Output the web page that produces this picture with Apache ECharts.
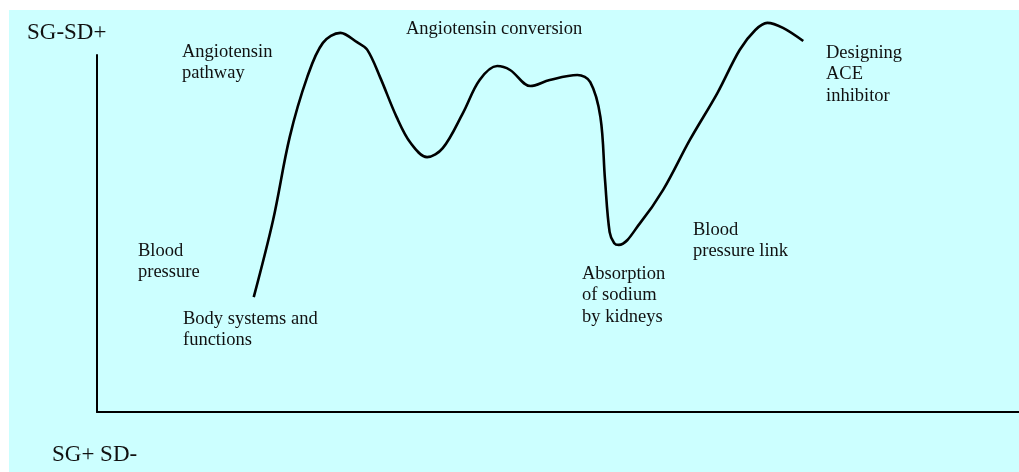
<!DOCTYPE html>
<html>
<head>
<meta charset="utf-8">
<script src="https://cdn.jsdelivr.net/npm/echarts@6/dist/echarts.min.js"></script>
<style>
html,body{margin:0;padding:0;background:#fff;}
#chart{width:1019px;height:472px;}
</style>
</head>
<body>
<div id="chart"></div>
<script>
// Curve (conceptual progress): x position along the narrative, y level (SG-SD scale)
const curveX = [17.0, 19.1, 20.9, 22.8, 24.5, 26.4, 28.2, 29.3, 30.7, 32.5, 34.0, 35.8, 37.5, 39.7, 41.5, 43.4, 44.8, 47.0, 49.1, 52.1, 53.5, 54.6, 55.1, 55.6, 56.1, 56.6, 58.9, 61.4, 64.3, 67.3, 69.7, 71.4, 72.7, 74.4, 76.6];
const curveY = [32.2, 53.8, 77.0, 93.8, 103.4, 106.2, 103.6, 101.5, 93.8, 82.6, 75.4, 71.4, 73.9, 83.8, 93.0, 96.9, 95.8, 91.3, 93.0, 94.4, 92.4, 82.6, 65.0, 50.4, 47.3, 46.8, 52.9, 62.2, 76.2, 89.4, 101.4, 107.0, 109.0, 107.6, 103.9];

// Annotation texts
const axisTopLabel = 'SG-SD+';
const axisBottomLabel = 'SG+ SD-';
const stageLabels = [
  'Angiotensin\npathway',
  'Angiotensin conversion',
  'Designing\nACE\ninhibitor',
  'Blood\npressure',
  'Body systems and\nfunctions',
  'Absorption\nof sodium\nby kidneys',
  'Blood\npressure link'
];

const chart = echarts.init(document.getElementById('chart'), null, {renderer: 'canvas'});

const FONT = '"Liberation Serif", "Times New Roman", serif';
const LH = 21.5;
function label(text, x, baseline, size, lh) {
  size = size || 18.5; lh = lh || LH;
  return {
    type: 'text',
    silent: true,
    z: 10,
    style: {
      text: text,
      x: x,
      y: baseline - lh / 2 - size * 0.33,
      fontFamily: FONT,
      fontSize: size,
      lineHeight: lh,
      fill: '#111',
      verticalAlign: 'top',
      align: 'left'
    }
  };
}

const labelPos = [
  [182, 58], [406, 35], [826, 59], [138, 257], [183, 325], [582, 280], [693, 236]
];

const graphics = [
  {type: 'rect', z: -10, silent: true, shape: {x: 9, y: 10, width: 1010, height: 462}, style: {fill: '#CCFFFF'}},
  label(axisTopLabel, 27, 41, 23, 26),
  label(axisBottomLabel, 52, 463, 23, 26)
];
stageLabels.forEach((t, i) => graphics.push(label(t, labelPos[i][0], labelPos[i][1])));

chart.setOption({
  backgroundColor: '#ffffff',
  animation: false,
  graphic: graphics,
  grid: {left: 97, right: 0, top: 55, bottom: 60, containLabel: false},
  xAxis: {
    type: 'value', min: 0, max: 100,
    axisLine: {show: true, onZero: false, lineStyle: {color: '#000', width: 2}},
    axisTick: {show: false}, axisLabel: {show: false}, splitLine: {show: false}
  },
  yAxis: {
    type: 'value', min: 0, max: 100,
    axisLine: {show: true, onZero: false, lineStyle: {color: '#000', width: 2}},
    axisTick: {show: false}, axisLabel: {show: false}, splitLine: {show: false}
  },
  series: [{
    type: 'line',
    data: curveX.map((x, i) => [x, curveY[i]]),
    smooth: 0.35,
    clip: false,
    symbol: 'none',
    lineStyle: {color: '#000', width: 2.6}
  }]
});
</script>
</body>
</html>
